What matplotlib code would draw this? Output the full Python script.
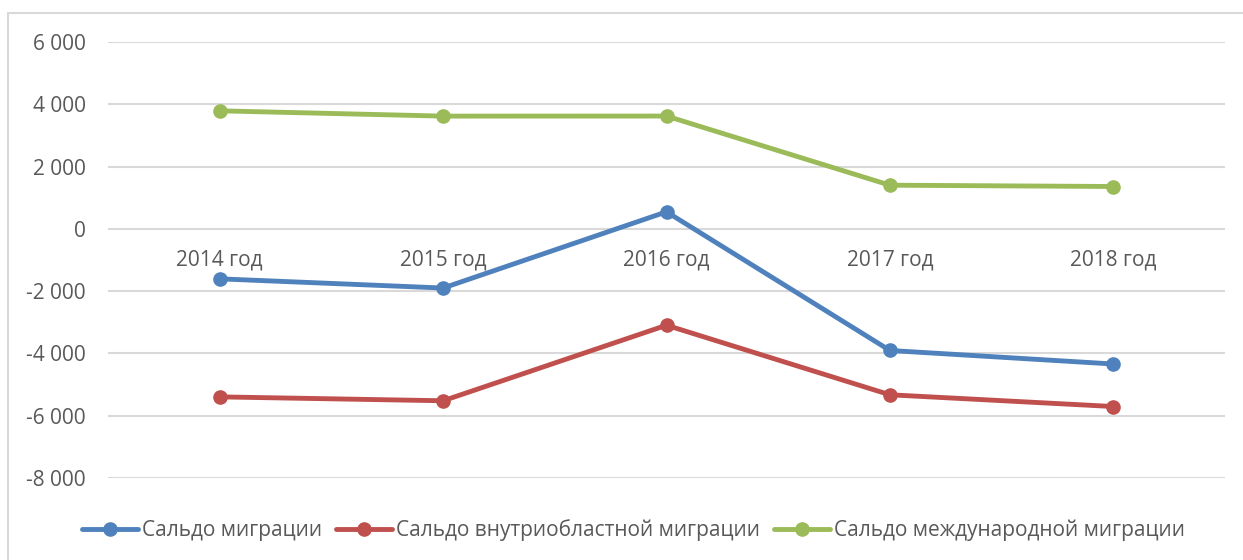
import matplotlib
matplotlib.use('Agg')
import matplotlib.pyplot as plt
from matplotlib.lines import Line2D
from matplotlib.ticker import FuncFormatter

plt.rcParams['font.family'] = ['Open Sans', 'DejaVu Sans']

# Data
years = ['2014 год', '2015 год', '2016 год', '2017 год', '2018 год']
total = [-1605, -1900, 547, -3905, -4340]
intra = [-5395, -5520, -3095, -5328, -5705]
intl = [3790, 3620, 3622, 1402, 1360]
labels = ['Сальдо миграции', 'Сальдо внутриобластной миграции',
          'Сальдо международной миграции']
colors = ['#4F81BD', '#C0504D', '#9BBB59']
yticks = [-8000, -6000, -4000, -2000, 0, 2000, 4000, 6000]

txt = '#595959'
fig = plt.figure(figsize=(12.43, 5.6), dpi=100)
ax = fig.add_axes([108 / 1243, 1 - 478 / 560, (1225 - 108) / 1243, (478 - 42) / 560])

x = range(len(years))
for vals, c, lab in zip([total, intra, intl], colors, labels):
    ax.plot(x, vals, color=c, lw=3.5, marker='o', ms=9.5, label=lab,
            solid_capstyle='round', zorder=3)

ax.set_xlim(-0.5, len(years) - 0.5)
ax.set_ylim(-8000, 6000)
ax.set_yticks(yticks)
ax.yaxis.set_major_formatter(FuncFormatter(lambda v, p: '{:,.0f}'.format(v).replace(',', ' ')))
ax.grid(axis='y', color='#D9D9D9', lw=1.5, zorder=0)
ax.set_xticks(list(x))
ax.set_xticklabels(years)
for s in ['top', 'right', 'left']:
    ax.spines[s].set_visible(False)
ax.spines['bottom'].set_position(('data', 0))
ax.spines['bottom'].set_visible(False)
ax.tick_params(axis='x', length=0, pad=15, labelsize=15, labelcolor=txt)
ax.tick_params(axis='y', length=0, pad=16, labelsize=15, labelcolor=txt)

# chart frame (top and left edges visible)
fig.add_artist(Line2D([8 / 1243, 8 / 1243, 1.0], [0.0, 1 - 13 / 560, 1 - 13 / 560],
                      color='#D9D9D9', lw=1.5, transform=fig.transFigure))

fig.legend(loc='center', bbox_to_anchor=(0.5097, 1 - 530 / 560), ncol=3,
           frameon=False, fontsize=15, labelcolor=txt, handlelength=2.69,
           handletextpad=0.19, columnspacing=0.67, borderpad=0)

fig.savefig('out.png', dpi=100, facecolor='white')
